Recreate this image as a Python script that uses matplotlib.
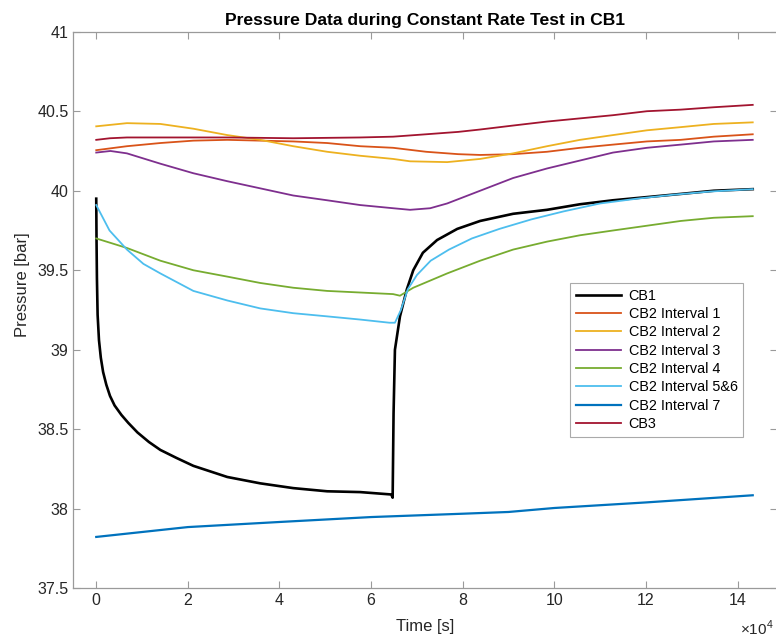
import matplotlib
matplotlib.use("Agg")
import matplotlib.pyplot as plt
from matplotlib.ticker import FuncFormatter

plt.rcParams['font.family'] = ['Liberation Sans', 'DejaVu Sans']
plt.rcParams['mathtext.fontset'] = 'custom'
plt.rcParams['mathtext.rm'] = 'Liberation Sans'

# time in seconds, pressure in bar
cb1_t = [0, 60, 150, 300, 600, 1000, 1500, 2200, 3000, 4000, 5500, 7000,
         9000, 11500, 14000, 17500, 21200, 28600, 35800, 43000, 50400, 57600,
         64400, 64700, 64900, 65200, 66300, 67800, 69200, 71300, 74400, 78800,
         83800, 91000, 98400, 105600, 112800, 120200, 127600, 134800, 143300]
cb1_p = [39.95, 39.7, 39.45, 39.22, 39.06, 38.95, 38.86, 38.78, 38.71, 38.65,
         38.59, 38.54, 38.48, 38.42, 38.37, 38.32, 38.27, 38.20, 38.16, 38.13,
         38.11, 38.105, 38.09, 38.07, 38.6, 39.0, 39.21, 39.38, 39.50, 39.61,
         39.69, 39.76, 39.81, 39.855, 39.88, 39.915, 39.94, 39.96, 39.98,
         40.0, 40.01]

int1_t = [0, 6700, 14000, 21200, 28600, 35800, 43000, 50400, 57600, 64800,
          72000, 79000, 83800, 91000, 98400, 105600, 112800, 120200, 127600,
          134800, 143300]
int1_p = [40.255, 40.28, 40.30, 40.315, 40.32, 40.315, 40.31, 40.30, 40.28,
          40.27, 40.245, 40.23, 40.225, 40.23, 40.245, 40.27, 40.29, 40.31,
          40.32, 40.34, 40.355]

int2_t = [0, 6700, 14000, 21200, 28600, 35800, 43000, 50400, 57600, 64800,
          68500, 76600, 83800, 91000, 98400, 105600, 112800, 120200, 127600,
          134800, 143300]
int2_p = [40.405, 40.425, 40.42, 40.39, 40.35, 40.32, 40.28, 40.245, 40.22,
          40.20, 40.185, 40.18, 40.20, 40.235, 40.28, 40.32, 40.35, 40.38,
          40.40, 40.42, 40.43]

int3_t = [0, 3100, 6700, 14000, 21200, 28600, 35800, 43000, 50400, 57600,
          64800, 68500, 72900, 76600, 83800, 91000, 98400, 105600, 112800,
          120200, 127600, 134800, 143300]
int3_p = [40.24, 40.25, 40.235, 40.17, 40.11, 40.06, 40.015, 39.97, 39.94,
          39.91, 39.89, 39.88, 39.89, 39.92, 40.0, 40.08, 40.14, 40.19, 40.24,
          40.27, 40.29, 40.31, 40.32]

int4_t = [0, 6700, 14000, 21200, 28600, 35800, 43000, 50400, 57600, 64800,
          66300, 69200, 76600, 83800, 91000, 98400, 105600, 112800, 120200,
          127600, 134800, 143300]
int4_p = [39.70, 39.64, 39.56, 39.50, 39.46, 39.42, 39.39, 39.37, 39.36,
          39.35, 39.34, 39.39, 39.48, 39.56, 39.63, 39.68, 39.72, 39.75,
          39.78, 39.81, 39.83, 39.84]

int56_t = [0, 2900, 6700, 10300, 14000, 21200, 28600, 35800, 43000, 50400,
           57600, 64000, 65200, 66500, 68000, 70000, 73000, 77000, 82000,
           88000, 95000, 102000, 110000, 118000, 126000, 134000, 143300]
int56_p = [39.91, 39.75, 39.63, 39.54, 39.48, 39.37, 39.31, 39.26, 39.23,
           39.21, 39.19, 39.17, 39.17, 39.25, 39.38, 39.47, 39.56, 39.63,
           39.70, 39.76, 39.82, 39.87, 39.92, 39.95, 39.975, 39.995, 40.01]

int7_t = [0, 20000, 40000, 60000, 80000, 90000, 100000, 120000, 143300]
int7_p = [37.823, 37.885, 37.917, 37.948, 37.969, 37.98, 38.005, 38.04, 38.085]

cb3_t = [0, 3000, 6700, 28600, 43000, 57600, 64800, 72000, 79000, 83800,
         91000, 98400, 105600, 112800, 120200, 127600, 134800, 143300]
cb3_p = [40.32, 40.33, 40.335, 40.335, 40.33, 40.335, 40.34, 40.355, 40.37,
         40.385, 40.41, 40.435, 40.455, 40.475, 40.50, 40.51, 40.525, 40.54]

fig = plt.figure(figsize=(7.76, 6.38), dpi=100)
ax = fig.add_axes([0.0945, 0.0779, 0.9068, 0.8724])

ax.plot(cb1_t, cb1_p, color='black', lw=1.9, label='CB1')
ax.plot(int1_t, int1_p, color='#D95319', lw=1.3, label='CB2 Interval 1')
ax.plot(int2_t, int2_p, color='#EDB120', lw=1.3, label='CB2 Interval 2')
ax.plot(int3_t, int3_p, color='#7E2F8E', lw=1.3, label='CB2 Interval 3')
ax.plot(int4_t, int4_p, color='#77AC30', lw=1.3, label='CB2 Interval 4')
ax.plot(int56_t, int56_p, color='#4DBEEE', lw=1.3, label='CB2 Interval 5&6')
ax.plot(int7_t, int7_p, color='#0072BD', lw=1.6, label='CB2 Interval 7')
ax.plot(cb3_t, cb3_p, color='#A2142F', lw=1.3, label='CB3')

ax.set_xlim(-5000, 148600)
ax.set_ylim(37.5, 41)
ax.set_xticks(range(0, 140001, 20000))
ax.set_yticks([37.5, 38, 38.5, 39, 39.5, 40, 40.5, 41])
ax.xaxis.set_major_formatter(FuncFormatter(lambda v, p: '%d' % round(v / 1e4)))
ax.yaxis.set_major_formatter(FuncFormatter(lambda v, p: '%g' % v))

for s in ax.spines.values():
    s.set_color('#9a9a9a')
    s.set_linewidth(0.9)
ax.tick_params(direction='in', length=5, width=0.8, color='#9a9a9a',
               top=True, right=True, labelsize=11.5, labelcolor='#262626')

ax.set_title('Pressure Data during Constant Rate Test in CB1', fontsize=12.6,
             fontweight='bold', pad=5)
ax.set_xlabel('Time [s]', fontsize=12, color='#262626', labelpad=8)
ax.set_ylabel('Pressure [bar]', fontsize=12, color='#262626')
ax.yaxis.set_label_coords(-0.0615, 0.545)
fig.text(0.953, 0.004, r'$\times 10^{4}$', fontsize=11, color='#262626')

leg = ax.legend(loc='upper left', bbox_to_anchor=(0.706, 0.5485),
                borderaxespad=0, fontsize=10.4, handlelength=3.1,
                handletextpad=0.55, labelspacing=0.3, borderpad=0.4,
                fancybox=False, framealpha=1)
leg.get_frame().set_edgecolor('#aaaaaa')
leg.get_frame().set_linewidth(0.8)

fig.savefig('out.png', dpi=100)
